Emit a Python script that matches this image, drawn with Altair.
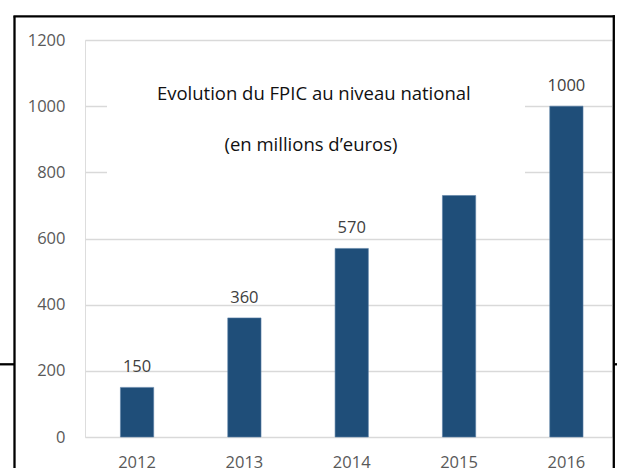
import altair as alt
import pandas as pd

years = ["2012", "2013", "2014", "2015", "2016"]
values = [150, 360, 570, 730, 1000]
value_labels = ["150", "360", "570", "", "1000"]
y_ticks = [0, 200, 400, 600, 800, 1000, 1200]
title_lines = ["Evolution du FPIC au niveau national", "(en millions d\u2019euros)"]

df = pd.DataFrame({"year": years, "value": values, "label": value_labels})

FONT = "Open Sans"
one = alt.Data(values=[{}])

x_enc = alt.X(
    "year:N",
    sort=years,
    scale=alt.Scale(paddingInner=0.69, paddingOuter=0.30, align=0.55),
    axis=alt.Axis(
        title=None, labelAngle=0, domain=False, ticks=False, labelPadding=17,
        labelFont=FONT, labelFontSize=16.5, labelColor="#595959", grid=False,
    ),
)
y_enc = alt.Y(
    "value:Q",
    scale=alt.Scale(domain=[0, 1200], nice=False),
    axis=alt.Axis(
        title=None, values=y_ticks, format="d", domain=False, ticks=False, labelPadding=20,
        labelFont=FONT, labelFontSize=16.5, labelColor="#595959",
        grid=True, gridColor="#d9d9d9", gridWidth=1.4,
    ),
)

bars = alt.Chart(df).mark_bar(color="#1f4e79", stroke="#5b7fa6", strokeWidth=0.6).encode(
    x=x_enc, y=y_enc
)

cover = alt.Chart(one).mark_rect(color="white").encode(
    x=alt.value(22), x2=alt.value(440), y=alt.value(12), y2=alt.value(150)
)

t1 = alt.Chart(one).mark_text(
    font=FONT, fontSize=18.5, color="#111111", align="center", baseline="alphabetic"
).encode(x=alt.value(228.8), y=alt.value(59.5), text=alt.value(title_lines[0]))

t2 = alt.Chart(one).mark_text(
    font=FONT, fontSize=18.5, color="#111111", align="center", baseline="alphabetic"
).encode(x=alt.value(226), y=alt.value(111), text=alt.value(title_lines[1]))

labels = alt.Chart(df).mark_text(
    font=FONT, fontSize=16.5, color="#404040", align="center", baseline="alphabetic", dy=-15
).encode(x=alt.X("year:N", sort=years), y=alt.Y("value:Q"), text="label:N")

border_style = dict(color="black", strokeWidth=2.3)
b_left = alt.Chart(one).mark_rule(**border_style).encode(
    x=alt.value(-70.5), y=alt.value(-23.7), y2=alt.value(440)
)
b_top = alt.Chart(one).mark_rule(**border_style).encode(
    x=alt.value(-71.6), x2=alt.value(529.9), y=alt.value(-23.7)
)
b_right = alt.Chart(one).mark_rule(**border_style).encode(
    x=alt.value(528.8), y=alt.value(-24.8), y2=alt.value(440)
)
h_left = alt.Chart(one).mark_rule(**border_style).encode(
    x=alt.value(-90), x2=alt.value(-70.5), y=alt.value(324.3)
)
h_right = alt.Chart(one).mark_rule(**border_style).encode(
    x=alt.value(528.8), x2=alt.value(540), y=alt.value(324.3)
)

chart = alt.layer(
    bars, cover, t1, t2, labels, b_left, b_top, b_right, h_left, h_right
).properties(
    width=527,
    height=397,
    autosize=alt.AutoSizeParams(type="none"),
    padding={"left": 85, "top": 40, "right": 5, "bottom": 31},
).configure_view(stroke=None).configure(background="white")

chart.save("out.html", embed_options={"renderer": "svg", "actions": False})
